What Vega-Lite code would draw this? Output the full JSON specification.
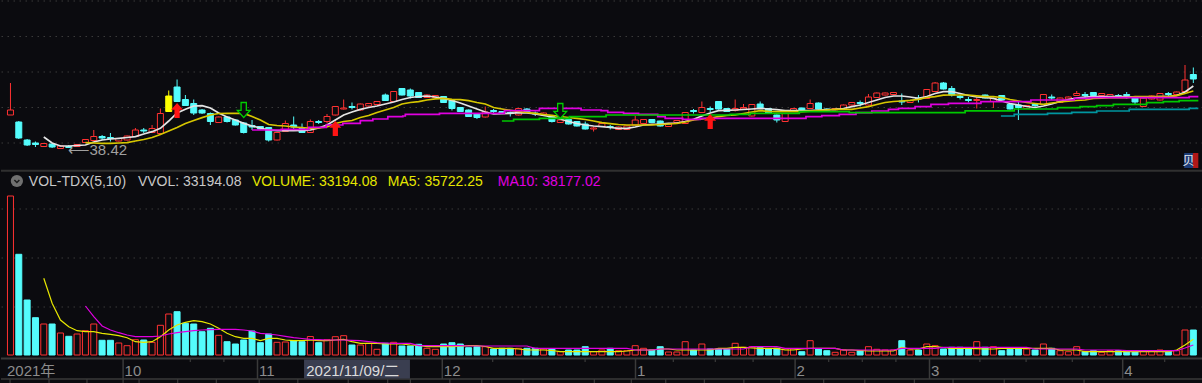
{
"$schema": "https://vega.github.io/schema/vega-lite/v6.json",
"background": "#0b0b0f",
"padding": 0,
"spacing": 0,
"config": {"view": {"stroke": null}, "font": "Liberation Sans, 'Noto Sans CJK SC', sans-serif", "concat": {"spacing": 0}},
"datasets": {
"k": [
{"i":0,"o":42.5,"h":46.34,"l":42.5,"c":43.1,"d":"u","v":286200},
{"i":1,"o":41.66,"h":41.78,"l":39.62,"c":39.74,"d":"d","v":181260},
{"i":2,"o":39.5,"h":39.62,"l":38.78,"c":38.9,"d":"d","v":99000},
{"i":3,"o":39.14,"h":39.32,"l":38.66,"c":38.96,"d":"d","v":67140},
{"i":4,"o":38.72,"h":39.14,"l":38.66,"c":39.08,"d":"u","v":55800,"m5":39.86,"vm5":138060},
{"i":5,"o":39.02,"h":39.08,"l":38.54,"c":38.66,"d":"d","v":55800,"m5":39.14,"vm5":93060},
{"i":6,"o":38.48,"h":38.84,"l":38.42,"c":38.78,"d":"u","v":39600,"m5":38.78,"vm5":63000},
{"i":7,"o":38.72,"h":38.9,"l":38.54,"c":38.6,"d":"d","v":33660,"m5":38.78,"vm5":50940},
{"i":8,"o":38.72,"h":39.02,"l":38.66,"c":38.96,"d":"u","v":37800,"m5":38.84,"vm5":43740},
{"i":9,"o":39.2,"h":39.62,"l":39.14,"c":39.56,"d":"u","v":43740,"m5":38.9,"m10":39.18,"vm5":41940,"vm10":88200},
{"i":10,"o":39.44,"h":40.7,"l":39.38,"c":39.92,"d":"u","v":55800,"m5":39.26,"m10":39.14,"vm5":41940,"vm10":68940},
{"i":11,"o":39.92,"h":40.1,"l":39.5,"c":39.74,"d":"d","v":26460,"m5":39.5,"m10":39.1,"vm5":39060,"vm10":52200},
{"i":12,"o":39.8,"h":40.34,"l":39.32,"c":39.68,"d":"d","v":26460,"m5":39.62,"m10":39.1,"vm5":37260,"vm10":45000},
{"i":13,"o":39.38,"h":39.74,"l":39.32,"c":39.68,"d":"u","v":21600,"m5":39.7,"m10":39.14,"vm5":34740,"vm10":40140},
{"i":14,"o":39.5,"h":40.04,"l":39.44,"c":39.98,"d":"u","v":16740,"m5":39.8,"m10":39.18,"vm5":31140,"vm10":36000},
{"i":15,"o":39.92,"h":40.94,"l":39.86,"c":40.7,"d":"u","v":27540,"m5":39.9,"m10":39.38,"vm5":23940,"vm10":32940},
{"i":16,"o":40.7,"h":40.94,"l":40.34,"c":40.58,"d":"d","v":27000,"m5":40.22,"m10":39.56,"vm5":22860,"vm10":32940},
{"i":17,"o":40.4,"h":41.3,"l":40.34,"c":40.88,"d":"u","v":22860,"m5":40.5,"m10":39.8,"vm5":23940,"vm10":32940},
{"i":18,"o":40.28,"h":43.28,"l":40.22,"c":42.68,"d":"u","v":53460,"m5":40.9,"m10":40.16,"vm5":32940,"vm10":34200},
{"i":19,"o":42.92,"h":45.44,"l":42.86,"c":44.78,"d":"y","v":73800,"m5":41.78,"m10":40.58,"vm5":45000,"vm10":37800},
{"i":20,"o":45.86,"h":46.76,"l":44.06,"c":44.12,"d":"d","v":77940,"m5":42.74,"m10":41.0,"vm5":54000,"vm10":40140},
{"i":21,"o":44.36,"h":44.9,"l":43.58,"c":43.64,"d":"d","v":57060,"m5":43.18,"m10":41.48,"vm5":58860,"vm10":41940},
{"i":22,"o":43.88,"h":44.36,"l":42.5,"c":42.74,"d":"d","v":55800,"m5":43.58,"m10":41.84,"vm5":61740,"vm10":43740},
{"i":23,"o":43.1,"h":43.22,"l":42.62,"c":42.74,"d":"d","v":41940,"m5":43.62,"m10":42.18,"vm5":59940,"vm10":45000},
{"i":24,"o":42.68,"h":42.8,"l":41.3,"c":41.72,"d":"d","v":48060,"m5":43.34,"m10":42.5,"vm5":55800,"vm10":45540},
{"i":25,"o":41.6,"h":42.32,"l":41.54,"c":42.26,"d":"u","v":35460,"m5":42.74,"m10":42.68,"vm5":48060,"vm10":46260},
{"i":26,"o":42.26,"h":42.38,"l":41.6,"c":41.72,"d":"d","v":23940,"m5":42.26,"m10":42.7,"vm5":39060,"vm10":46260},
{"i":27,"o":41.9,"h":41.96,"l":41.24,"c":41.3,"d":"d","v":19800,"m5":41.9,"m10":42.7,"vm5":32940,"vm10":46260},
{"i":28,"o":41.54,"h":41.66,"l":40.28,"c":40.4,"d":"d","v":27000,"m5":41.5,"m10":42.7,"vm5":30060,"vm10":45000},
{"i":29,"o":41.24,"h":41.9,"l":40.7,"c":41.06,"d":"d","v":43200,"m5":41.18,"m10":42.32,"vm5":30060,"vm10":43200},
{"i":30,"o":41.12,"h":41.18,"l":40.76,"c":40.82,"d":"d","v":22140,"m5":40.94,"m10":41.9,"vm5":25740,"vm10":39060},
{"i":31,"o":41.0,"h":41.06,"l":39.32,"c":39.5,"d":"d","v":37800,"m5":40.7,"m10":41.36,"vm5":30060,"vm10":37800},
{"i":32,"o":39.5,"h":40.46,"l":39.44,"c":40.4,"d":"u","v":22860,"m5":40.62,"m10":41.24,"vm5":30060,"vm10":36000},
{"i":33,"o":40.52,"h":41.84,"l":40.46,"c":41.48,"d":"u","v":23400,"m5":40.62,"m10":41.18,"vm5":27000,"vm10":33660},
{"i":34,"o":41.3,"h":42.32,"l":40.76,"c":41.06,"d":"d","v":25200,"m5":40.62,"m10":41.06,"vm5":25740,"vm10":31140},
{"i":35,"o":40.88,"h":41.48,"l":40.34,"c":40.4,"d":"d","v":23940,"m5":40.64,"m10":41.0,"vm5":25740,"vm10":29700},
{"i":36,"o":40.4,"h":41.96,"l":40.34,"c":41.72,"d":"u","v":33194.08,"m5":40.7,"m10":40.9,"vm5":27000,"vm10":28260},
{"i":37,"o":41.72,"h":41.9,"l":41.42,"c":41.6,"d":"d","v":22140,"m5":40.94,"m10":40.94,"vm5":25740,"vm10":27540},
{"i":38,"o":41.72,"h":42.62,"l":41.48,"c":42.32,"d":"u","v":27540,"m5":41.3,"m10":41.06,"vm5":25740,"vm10":27000},
{"i":39,"o":42.5,"h":43.58,"l":42.44,"c":43.52,"d":"u","v":32940,"m5":41.9,"m10":41.48,"vm5":27000,"vm10":27000},
{"i":40,"o":43.22,"h":44.36,"l":43.16,"c":43.34,"d":"u","v":34740,"m5":42.5,"m10":41.72,"vm5":28260,"vm10":27000},
{"i":41,"o":43.52,"h":44.0,"l":43.16,"c":43.4,"d":"d","v":18000,"m5":42.86,"m10":41.84,"vm5":23940,"vm10":26460},
{"i":42,"o":43.1,"h":43.88,"l":43.04,"c":43.82,"d":"u","v":18000,"m5":43.18,"m10":42.2,"vm5":21060,"vm10":25740},
{"i":43,"o":43.58,"h":43.94,"l":43.52,"c":43.88,"d":"u","v":21060,"m5":43.4,"m10":42.44,"vm5":21060,"vm10":23940},
{"i":44,"o":43.76,"h":44.18,"l":43.7,"c":44.12,"d":"u","v":10260,"m5":43.58,"m10":42.8,"vm5":21060,"vm10":22140},
{"i":45,"o":44.9,"h":45.08,"l":44.18,"c":44.24,"d":"d","v":21060,"m5":43.82,"m10":43.1,"vm5":19800,"vm10":21600},
{"i":46,"o":44.12,"h":45.38,"l":44.06,"c":45.32,"d":"u","v":22860,"m5":44.06,"m10":43.4,"vm5":19800,"vm10":21060},
{"i":47,"o":45.68,"h":45.74,"l":44.84,"c":44.9,"d":"d","v":16200,"m5":44.36,"m10":43.82,"vm5":19800,"vm10":21060},
{"i":48,"o":45.5,"h":45.68,"l":44.48,"c":44.78,"d":"d","v":16200,"m5":44.6,"m10":44.0,"vm5":18000,"vm10":21060},
{"i":49,"o":45.2,"h":45.26,"l":44.54,"c":44.6,"d":"d","v":19260,"m5":44.72,"m10":44.1,"vm5":17100,"vm10":16740},
{"i":50,"o":44.6,"h":44.96,"l":44.54,"c":44.9,"d":"u","v":12060,"m5":44.78,"m10":44.3,"vm5":14940,"vm10":16740},
{"i":51,"o":44.6,"h":44.9,"l":44.54,"c":44.84,"d":"u","v":10260,"m5":44.66,"m10":44.44,"vm5":14940,"vm10":16740},
{"i":52,"o":44.72,"h":44.78,"l":43.94,"c":44.0,"d":"d","v":19800,"m5":44.5,"m10":44.5,"vm5":14940,"vm10":16740},
{"i":53,"o":44.24,"h":44.36,"l":43.04,"c":43.28,"d":"d","v":22140,"m5":44.24,"m10":44.38,"vm5":14940,"vm10":16740},
{"i":54,"o":43.4,"h":43.46,"l":42.86,"c":42.92,"d":"d","v":19800,"m5":43.94,"m10":44.34,"vm5":15840,"vm10":16740},
{"i":55,"o":43.1,"h":43.16,"l":42.26,"c":42.32,"d":"d","v":13140,"m5":43.58,"m10":44.22,"vm5":16740,"vm10":16200},
{"i":56,"o":42.62,"h":42.68,"l":42.02,"c":42.2,"d":"d","v":14940,"m5":43.22,"m10":44.0,"vm5":16740,"vm10":16200},
{"i":57,"o":42.26,"h":43.52,"l":42.2,"c":42.86,"d":"u","v":14940,"m5":42.86,"m10":43.82,"vm5":15300,"vm10":16200},
{"i":58,"o":43.04,"h":43.22,"l":42.74,"c":42.92,"d":"d","v":10800,"m5":42.62,"m10":43.4,"vm5":12060,"vm10":16200},
{"i":59,"o":42.92,"h":42.98,"l":42.68,"c":42.74,"d":"d","v":12060,"m5":42.66,"m10":43.22,"vm5":12060,"vm10":16200},
{"i":60,"o":42.8,"h":42.92,"l":42.32,"c":42.68,"d":"d","v":12060,"m5":42.7,"m10":43.06,"vm5":12060,"vm10":16200},
{"i":61,"o":42.5,"h":43.34,"l":42.44,"c":43.28,"d":"u","v":12060,"m5":42.78,"m10":42.92,"vm5":10800,"vm10":16200},
{"i":62,"o":43.22,"h":43.34,"l":42.74,"c":42.8,"d":"d","v":12060,"m5":42.76,"m10":42.8,"vm5":9000,"vm10":16200},
{"i":63,"o":42.74,"h":42.92,"l":42.38,"c":42.62,"d":"d","v":12060,"m5":42.62,"m10":42.7,"vm5":9000,"vm10":12060},
{"i":64,"o":42.5,"h":42.8,"l":42.44,"c":42.74,"d":"u","v":10800,"m5":42.44,"m10":42.56,"vm5":9000,"vm10":12060},
{"i":65,"o":42.32,"h":42.38,"l":41.6,"c":41.72,"d":"d","v":10800,"m5":42.26,"m10":42.46,"vm5":8100,"vm10":12060},
{"i":66,"o":41.6,"h":41.96,"l":41.54,"c":41.9,"d":"u","v":5940,"m5":42.02,"m10":42.32,"vm5":5940,"vm10":12060},
{"i":67,"o":41.96,"h":42.02,"l":41.36,"c":41.42,"d":"d","v":9000,"m5":41.72,"m10":42.2,"vm5":5940,"vm10":12060},
{"i":68,"o":41.72,"h":41.78,"l":41.12,"c":41.18,"d":"d","v":9000,"m5":41.48,"m10":42.1,"vm5":5940,"vm10":12060},
{"i":69,"o":41.42,"h":41.72,"l":40.76,"c":40.82,"d":"d","v":14940,"m5":41.3,"m10":41.96,"vm5":5940,"vm10":12060},
{"i":70,"o":40.82,"h":41.12,"l":40.52,"c":40.94,"d":"u","v":5940,"m5":41.18,"m10":41.78,"vm5":5940,"vm10":12060},
{"i":71,"o":41.12,"h":41.54,"l":41.06,"c":41.48,"d":"u","v":9000,"m5":41.1,"m10":41.58,"vm5":5940,"vm10":12060},
{"i":72,"o":41.12,"h":41.3,"l":40.76,"c":41.0,"d":"d","v":12060,"m5":41.0,"m10":41.46,"vm5":5940,"vm10":12060},
{"i":73,"o":40.76,"h":41.12,"l":40.7,"c":41.06,"d":"u","v":7740,"m5":40.9,"m10":41.36,"vm5":5940,"vm10":12060},
{"i":74,"o":40.76,"h":41.24,"l":40.7,"c":41.18,"d":"u","v":7740,"m5":40.9,"m10":41.3,"vm5":7200,"vm10":12060},
{"i":75,"o":41.3,"h":42.38,"l":41.24,"c":41.9,"d":"u","v":16740,"m5":41.06,"m10":41.3,"vm5":9000,"vm10":9000},
{"i":76,"o":41.48,"h":42.02,"l":41.42,"c":41.96,"d":"u","v":12060,"m5":41.3,"m10":41.3,"vm5":9000,"vm10":9000},
{"i":77,"o":41.96,"h":42.02,"l":41.54,"c":41.6,"d":"d","v":9000,"m5":41.38,"m10":41.3,"vm5":9000,"vm10":9000},
{"i":78,"o":41.78,"h":41.84,"l":41.12,"c":41.18,"d":"d","v":14940,"m5":41.42,"m10":41.36,"vm5":10800,"vm10":10800},
{"i":79,"o":41.12,"h":41.48,"l":41.06,"c":41.42,"d":"u","v":5400,"m5":41.5,"m10":41.42,"vm5":10800,"vm10":10800},
{"i":80,"o":41.6,"h":41.9,"l":41.54,"c":41.84,"d":"u","v":5400,"m5":41.54,"m10":41.48,"vm5":9000,"vm10":10800},
{"i":81,"o":41.48,"h":42.86,"l":41.42,"c":42.8,"d":"u","v":23940,"m5":41.72,"m10":41.66,"vm5":9000,"vm10":10800},
{"i":82,"o":43.04,"h":43.22,"l":42.68,"c":42.92,"d":"d","v":9000,"m5":41.98,"m10":41.9,"vm5":9000,"vm10":10800},
{"i":83,"o":42.8,"h":44.12,"l":42.74,"c":43.4,"d":"u","v":19800,"m5":42.38,"m10":42.02,"vm5":9000,"vm10":10800},
{"i":84,"o":43.28,"h":43.52,"l":42.86,"c":43.16,"d":"d","v":10800,"m5":42.74,"m10":42.14,"vm5":9000,"vm10":10800},
{"i":85,"o":44.12,"h":44.18,"l":43.16,"c":43.22,"d":"d","v":10800,"m5":43.02,"m10":42.3,"vm5":12060,"vm10":10800},
{"i":86,"o":43.28,"h":43.34,"l":42.86,"c":42.92,"d":"d","v":10800,"m5":43.06,"m10":42.44,"vm5":12060,"vm10":10800},
{"i":87,"o":43.04,"h":44.36,"l":42.92,"c":43.28,"d":"u","v":21060,"m5":43.1,"m10":42.52,"vm5":13860,"vm10":10800},
{"i":88,"o":43.22,"h":43.82,"l":43.1,"c":43.4,"d":"u","v":13860,"m5":43.16,"m10":42.68,"vm5":13860,"vm10":10800},
{"i":89,"o":42.38,"h":43.82,"l":42.32,"c":43.76,"d":"u","v":14940,"m5":43.22,"m10":42.86,"vm5":12960,"vm10":14940},
{"i":90,"o":43.82,"h":44.12,"l":43.22,"c":43.28,"d":"d","v":13140,"m5":43.3,"m10":43.02,"vm5":12060,"vm10":14940},
{"i":91,"o":43.28,"h":43.34,"l":42.68,"c":42.74,"d":"d","v":10800,"m5":43.22,"m10":42.94,"vm5":12060,"vm10":14940},
{"i":92,"o":42.5,"h":42.56,"l":41.6,"c":41.9,"d":"d","v":12060,"m5":43.14,"m10":42.9,"vm5":12060,"vm10":14940},
{"i":93,"o":41.72,"h":42.74,"l":41.66,"c":42.68,"d":"u","v":10800,"m5":43.02,"m10":42.9,"vm5":9000,"vm10":12060},
{"i":94,"o":42.92,"h":43.34,"l":42.86,"c":43.28,"d":"u","v":10800,"m5":43.02,"m10":42.9,"vm5":9000,"vm10":12060},
{"i":95,"o":43.34,"h":43.4,"l":42.98,"c":43.04,"d":"d","v":5940,"m5":43.02,"m10":42.9,"vm5":10800,"vm10":12060},
{"i":96,"o":43.28,"h":44.36,"l":43.22,"c":43.88,"d":"u","v":25740,"m5":43.04,"m10":42.96,"vm5":12060,"vm10":12060},
{"i":97,"o":43.94,"h":44.0,"l":43.16,"c":43.22,"d":"d","v":10800,"m5":43.1,"m10":43.02,"vm5":12060,"vm10":12060},
{"i":98,"o":43.22,"h":43.28,"l":43.04,"c":43.1,"d":"d","v":7740,"m5":43.14,"m10":43.1,"vm5":12060,"vm10":12060},
{"i":99,"o":43.1,"h":43.34,"l":43.04,"c":43.28,"d":"u","v":4860,"m5":43.18,"m10":43.18,"vm5":12060,"vm10":12060},
{"i":100,"o":43.16,"h":43.76,"l":43.1,"c":43.7,"d":"u","v":9000,"m5":43.28,"m10":43.18,"vm5":9000,"vm10":9000},
{"i":101,"o":43.7,"h":44.06,"l":43.64,"c":44.0,"d":"u","v":4860,"m5":43.5,"m10":43.18,"vm5":9000,"vm10":9000},
{"i":102,"o":44.0,"h":44.24,"l":43.52,"c":43.88,"d":"d","v":7740,"m5":43.7,"m10":43.34,"vm5":8100,"vm10":9000},
{"i":103,"o":43.7,"h":45.02,"l":43.64,"c":44.66,"d":"u","v":14940,"m5":44.0,"m10":43.5,"vm5":7200,"vm10":9000},
{"i":104,"o":44.6,"h":45.2,"l":44.54,"c":45.14,"d":"u","v":10260,"m5":44.3,"m10":43.76,"vm5":7200,"vm10":9000},
{"i":105,"o":44.9,"h":45.2,"l":44.84,"c":45.14,"d":"u","v":9000,"m5":44.6,"m10":44.0,"vm5":7200,"vm10":9000},
{"i":106,"o":44.96,"h":45.26,"l":44.9,"c":45.2,"d":"u","v":9000,"m5":44.78,"m10":44.12,"vm5":7200,"vm10":9000},
{"i":107,"o":44.18,"h":45.08,"l":43.7,"c":44.06,"d":"d","v":25740,"m5":44.78,"m10":44.18,"vm5":13860,"vm10":12060},
{"i":108,"o":44.0,"h":44.3,"l":43.94,"c":44.24,"d":"u","v":9000,"m5":44.66,"m10":44.26,"vm5":10800,"vm10":12060},
{"i":109,"o":44.54,"h":44.9,"l":44.0,"c":44.42,"d":"d","v":9000,"m5":44.5,"m10":44.38,"vm5":10800,"vm10":12060},
{"i":110,"o":44.48,"h":45.62,"l":44.42,"c":45.56,"d":"u","v":19800,"m5":44.72,"m10":44.6,"vm5":14940,"vm10":12060},
{"i":111,"o":45.32,"h":46.46,"l":45.26,"c":46.34,"d":"u","v":16740,"m5":45.08,"m10":44.7,"vm5":14940,"vm10":12060},
{"i":112,"o":46.34,"h":46.46,"l":45.56,"c":45.62,"d":"d","v":10800,"m5":45.3,"m10":44.88,"vm5":13500,"vm10":13860},
{"i":113,"o":45.68,"h":45.98,"l":44.72,"c":44.9,"d":"d","v":13860,"m5":45.3,"m10":44.9,"vm5":12060,"vm10":13860},
{"i":114,"o":44.72,"h":44.9,"l":44.36,"c":44.6,"d":"d","v":13860,"m5":45.08,"m10":44.9,"vm5":12060,"vm10":13860},
{"i":115,"o":44.36,"h":44.66,"l":44.0,"c":44.24,"d":"d","v":12060,"m5":44.84,"m10":44.9,"vm5":12060,"vm10":13860},
{"i":116,"o":44.24,"h":44.6,"l":43.28,"c":44.36,"d":"u","v":23940,"m5":44.66,"m10":44.8,"vm5":11460,"vm10":13860},
{"i":117,"o":44.9,"h":44.96,"l":44.48,"c":44.54,"d":"d","v":13860,"m5":44.62,"m10":44.7,"vm5":10800,"vm10":13860},
{"i":118,"o":44.12,"h":44.6,"l":43.34,"c":44.48,"d":"u","v":14940,"m5":44.5,"m10":44.7,"vm5":10800,"vm10":13860},
{"i":119,"o":44.84,"h":44.9,"l":44.24,"c":44.3,"d":"d","v":7740,"m5":44.18,"m10":44.6,"vm5":12060,"vm10":13860},
{"i":120,"o":43.76,"h":43.82,"l":43.16,"c":43.22,"d":"d","v":10260,"m5":43.88,"m10":44.36,"vm5":12060,"vm10":13860},
{"i":121,"o":43.7,"h":44.12,"l":41.9,"c":43.4,"d":"d","v":10800,"m5":43.7,"m10":44.18,"vm5":12060,"vm10":13860},
{"i":122,"o":43.28,"h":43.7,"l":43.22,"c":43.64,"d":"u","v":10800,"m5":43.52,"m10":44.0,"vm5":12060,"vm10":13860},
{"i":123,"o":43.76,"h":43.94,"l":43.4,"c":43.64,"d":"d","v":9000,"m5":43.4,"m10":43.88,"vm5":12060,"vm10":10800},
{"i":124,"o":43.76,"h":45.02,"l":43.7,"c":44.96,"d":"u","v":19800,"m5":43.58,"m10":43.78,"vm5":12060,"vm10":10800},
{"i":125,"o":44.66,"h":44.96,"l":44.3,"c":44.54,"d":"d","v":12060,"m5":43.82,"m10":43.94,"vm5":12060,"vm10":10800},
{"i":126,"o":44.0,"h":44.6,"l":43.94,"c":44.54,"d":"u","v":7740,"m5":44.12,"m10":44.06,"vm5":9000,"vm10":10800},
{"i":127,"o":44.42,"h":44.72,"l":44.36,"c":44.66,"d":"u","v":5940,"m5":44.36,"m10":44.16,"vm5":9000,"vm10":10800},
{"i":128,"o":44.84,"h":45.38,"l":44.78,"c":45.08,"d":"u","v":14940,"m5":44.54,"m10":44.24,"vm5":9000,"vm10":10800},
{"i":129,"o":44.96,"h":45.26,"l":44.54,"c":44.84,"d":"d","v":5940,"m5":44.66,"m10":44.3,"vm5":5940,"vm10":9000},
{"i":130,"o":45.2,"h":45.26,"l":44.78,"c":44.84,"d":"d","v":7740,"m5":44.72,"m10":44.48,"vm5":5940,"vm10":9000},
{"i":131,"o":44.84,"h":45.14,"l":44.78,"c":45.08,"d":"u","v":4860,"m5":44.72,"m10":44.52,"vm5":5940,"vm10":9000},
{"i":132,"o":44.72,"h":45.02,"l":44.66,"c":44.96,"d":"u","v":7740,"m5":44.7,"m10":44.58,"vm5":5940,"vm10":9000},
{"i":133,"o":44.84,"h":45.02,"l":44.54,"c":44.72,"d":"d","v":7740,"m5":44.7,"m10":44.58,"vm5":5940,"vm10":9000},
{"i":134,"o":44.96,"h":45.26,"l":44.48,"c":44.84,"d":"d","v":7740,"m5":44.7,"m10":44.58,"vm5":5940,"vm10":7740},
{"i":135,"o":44.54,"h":44.6,"l":43.76,"c":44.06,"d":"d","v":7740,"m5":44.66,"m10":44.7,"vm5":5940,"vm10":7740},
{"i":136,"o":43.52,"h":44.6,"l":43.46,"c":44.54,"d":"u","v":7740,"m5":44.6,"m10":44.7,"vm5":5940,"vm10":7740},
{"i":137,"o":44.42,"h":44.84,"l":44.36,"c":44.78,"d":"u","v":7740,"m5":44.66,"m10":44.7,"vm5":5940,"vm10":7740},
{"i":138,"o":44.3,"h":45.14,"l":44.24,"c":45.08,"d":"u","v":9000,"m5":44.7,"m10":44.7,"vm5":5940,"vm10":7740},
{"i":139,"o":45.08,"h":45.26,"l":44.78,"c":44.96,"d":"d","v":7740,"m5":44.72,"m10":44.72,"vm5":5940,"vm10":7740},
{"i":140,"o":44.96,"h":45.32,"l":44.9,"c":45.26,"d":"u","v":7740,"m5":44.84,"m10":44.82,"vm5":9000,"vm10":7740},
{"i":141,"o":45.32,"h":48.5,"l":45.26,"c":46.7,"d":"u","v":45000,"m5":45.26,"m10":45.08,"vm5":18000,"vm10":12600},
{"i":142,"o":47.36,"h":48.2,"l":46.34,"c":46.82,"d":"d","v":45000,"m5":45.98,"m10":45.38,"vm5":28260,"vm10":18000}
],
"ma": [
{"s":"m20","i":29.0,"p":40.7},{"s":"m20","i":32.5,"p":40.78},{"s":"m20","i":35.8,"p":41.02},{"s":"m20","i":37.9,"p":41.3},{"s":"m20","i":39.9,"p":41.5},{"s":"m20","i":42.0,"p":41.82},{"s":"m20","i":43.5,"p":42.02},{"s":"m20","i":45.3,"p":42.3},{"s":"m20","i":47.1,"p":42.38},{"s":"m20","i":47.4,"p":42.58},{"s":"m20","i":51.5,"p":42.7},{"s":"m20","i":59.3,"p":43.02},{"s":"m20","i":63.5,"p":43.3},{"s":"m20","i":68.5,"p":43.1},{"s":"m20","i":70.9,"p":43.02},{"s":"m20","i":71.7,"p":42.82},{"s":"m20","i":73.6,"p":42.7},{"s":"m20","i":75.4,"p":42.58},{"s":"m20","i":77.7,"p":42.3},{"s":"m20","i":78.6,"p":42.1},{"s":"m20","i":80.7,"p":41.98},{"s":"m20","i":82.8,"p":42.1},{"s":"m20","i":95.5,"p":42.3},{"s":"m20","i":97.4,"p":42.42},{"s":"m20","i":99.5,"p":42.58},{"s":"m20","i":101.5,"p":42.78},{"s":"m20","i":103.4,"p":42.98},{"s":"m20","i":105.4,"p":43.18},{"s":"m20","i":106.6,"p":43.3},{"s":"m20","i":108.6,"p":43.5},{"s":"m20","i":110.5,"p":43.78},{"s":"m20","i":112.6,"p":43.9},{"s":"m20","i":116.5,"p":44.1},{"s":"m20","i":122.5,"p":44.3},{"s":"m20","i":127.7,"p":44.5},{"s":"m20","i":129.6,"p":44.58},{"s":"m20","i":141.5,"p":44.7},{"s":"m20","i":142.6,"p":44.7},
{"s":"m30","i":59.0,"p":41.78},{"s":"m30","i":60.4,"p":41.98},{"s":"m30","i":63.5,"p":42.1},{"s":"m30","i":67.1,"p":42.3},{"s":"m30","i":71.5,"p":42.5},{"s":"m30","i":86.4,"p":42.58},{"s":"m30","i":88.8,"p":42.7},{"s":"m30","i":94.7,"p":42.9},{"s":"m30","i":100.7,"p":42.78},{"s":"m30","i":114.6,"p":43.0},{"s":"m30","i":120.5,"p":43.22},{"s":"m30","i":125.7,"p":43.38},{"s":"m30","i":128.4,"p":43.5},{"s":"m30","i":130.4,"p":43.62},{"s":"m30","i":132.4,"p":43.78},{"s":"m30","i":136.4,"p":43.98},{"s":"m30","i":138.4,"p":44.1},{"s":"m30","i":140.3,"p":44.22},{"s":"m30","i":142.6,"p":44.22},
{"s":"m60","i":118.9,"p":42.38},{"s":"m60","i":120.5,"p":42.58},{"s":"m60","i":124.5,"p":42.7},{"s":"m60","i":127.4,"p":42.82},{"s":"m60","i":130.4,"p":42.98},{"s":"m60","i":134.3,"p":43.18},{"s":"m60","i":141.5,"p":43.3},{"s":"m60","i":142.6,"p":43.3}
]
},
"vconcat": [
{
"width": 1202, "height": 172,
"resolve": {"scale": {"color": "independent", "stroke": "independent", "fill": "independent"}},
"layer": [
{"data": {"values": [{"g":56.18},{"g":51.92},{"g":47.66},{"g":43.4},{"g":39.14}]},
 "mark": {"type": "rule", "stroke": "#3a3a3a", "strokeDash": [1.5, 4.5], "strokeWidth": 1},
 "encoding": {"y": {"field": "g", "type": "quantitative", "scale": {"domain": [35.66, 56.3], "nice": false, "zero": false}, "axis": null}}},
{"data": {"values": [{"g":35.8}]},
 "mark": {"type": "rule", "stroke": "#303030", "strokeWidth": 2},
 "encoding": {"y": {"field": "g", "type": "quantitative", "scale": {"domain": [35.66, 56.3], "nice": false, "zero": false}, "axis": null}}},
{"data": {"name": "k"},
 "mark": {"type": "rule", "strokeWidth": 1},
 "encoding": {
  "x": {"field": "i", "type": "quantitative", "scale": {"domain": [-0.536, 142.56], "nice": false, "zero": false}, "axis": null},
  "y": {"field": "l", "type": "quantitative", "scale": {"domain": [35.66, 56.3], "nice": false, "zero": false}, "axis": null},
  "y2": {"field": "h"},
  "color": {"field": "d", "type": "nominal", "scale": {"domain": ["u","d","y"], "range": ["#ff3232","#54fcfc","#ffff00"]}, "legend": null}}},
{"data": {"name": "k"},
 "mark": {"type": "bar", "size": 6, "strokeWidth": 1},
 "encoding": {
  "x": {"field": "i", "type": "quantitative", "scale": {"domain": [-0.536, 142.56], "nice": false, "zero": false}, "axis": null},
  "y": {"field": "o", "type": "quantitative", "scale": {"domain": [35.66, 56.3], "nice": false, "zero": false}, "axis": null},
  "y2": {"field": "c"},
  "fill": {"field": "d", "type": "nominal", "scale": {"domain": ["u","d","y"], "range": ["#0b0b0f","#54fcfc","#ffff00"]}, "legend": null},
  "stroke": {"field": "d", "type": "nominal", "scale": {"domain": ["u","d","y"], "range": ["#ff3232","#54fcfc","#ffff00"]}, "legend": null}}},
{"data": {"name": "k"},
 "mark": {"type": "line", "stroke": "#e4e4e4", "strokeWidth": 1.7},
 "encoding": {
  "x": {"field": "i", "type": "quantitative", "scale": {"domain": [-0.536, 142.56], "nice": false, "zero": false}, "axis": null},
  "y": {"field": "m5", "type": "quantitative", "scale": {"domain": [35.66, 56.3], "nice": false, "zero": false}, "axis": null}}},
{"data": {"name": "k"},
 "mark": {"type": "line", "stroke": "#d6c600", "strokeWidth": 1.7},
 "encoding": {
  "x": {"field": "i", "type": "quantitative", "scale": {"domain": [-0.536, 142.56], "nice": false, "zero": false}, "axis": null},
  "y": {"field": "m10", "type": "quantitative", "scale": {"domain": [35.66, 56.3], "nice": false, "zero": false}, "axis": null}}},
{"data": {"name": "ma"},
 "mark": {"type": "line", "interpolate": "step-after", "strokeWidth": 1.7},
 "encoding": {
  "x": {"field": "i", "type": "quantitative", "scale": {"domain": [-0.536, 142.56], "nice": false, "zero": false}, "axis": null},
  "y": {"field": "p", "type": "quantitative", "scale": {"domain": [35.66, 56.3], "nice": false, "zero": false}, "axis": null},
  "color": {"field": "s", "type": "nominal", "scale": {"domain": ["m20","m30","m60"], "range": ["#e000e0","#00c800","#0096a0"]}, "legend": null}}},
{"data": {"values": [{"i":20,"p":43.04},{"i":39,"p":40.88},{"i":84,"p":41.72}]},
 "mark": {"type": "point", "filled": true, "fill": "#ff1414", "stroke": null, "opacity": 1, "size": 225, "shape": "M0,-1L0.8,-0.1L0.35,-0.1L0.35,1L-0.35,1L-0.35,-0.1L-0.8,-0.1Z"},
 "encoding": {
  "x": {"field": "i", "type": "quantitative", "scale": {"domain": [-0.536, 142.56], "nice": false, "zero": false}, "axis": null},
  "y": {"field": "p", "type": "quantitative", "scale": {"domain": [35.66, 56.3], "nice": false, "zero": false}, "axis": null}}},
{"data": {"values": [{"i":28,"p":43.1},{"i":66,"p":42.98}]},
 "mark": {"type": "point", "filled": false, "fill": "#0b0b0f", "stroke": "#00d000", "strokeWidth": 1.3, "opacity": 1, "size": 225, "shape": "M-0.35,-1L0.35,-1L0.35,0.05L0.85,0.05L0,1L-0.85,0.05L-0.35,0.05Z"},
 "encoding": {
  "x": {"field": "i", "type": "quantitative", "scale": {"domain": [-0.536, 142.56], "nice": false, "zero": false}, "axis": null},
  "y": {"field": "p", "type": "quantitative", "scale": {"domain": [35.66, 56.3], "nice": false, "zero": false}, "axis": null}}},
{"data": {"values": [{"i":6.85,"p":38.3,"t":"⟵38.42"}]},
 "mark": {"type": "text", "align": "left", "baseline": "middle", "fontSize": 15, "fill": "#a0a0a0"},
 "encoding": {
  "x": {"field": "i", "type": "quantitative", "scale": {"domain": [-0.536, 142.56], "nice": false, "zero": false}, "axis": null},
  "y": {"field": "p", "type": "quantitative", "scale": {"domain": [35.66, 56.3], "nice": false, "zero": false}, "axis": null},
  "text": {"field": "t"}}},
{"data": {"values": [{}]},
 "mark": {"type": "rect", "fill": "#1c3d78"},
 "encoding": {
  "x": {"datum": 140.9, "type": "quantitative", "scale": {"domain": [-0.536, 142.56], "nice": false, "zero": false}, "axis": null},
  "x2": {"datum": 141.96},
  "y": {"datum": 37.94, "type": "quantitative", "scale": {"domain": [35.66, 56.3], "nice": false, "zero": false}, "axis": null},
  "y2": {"datum": 36.14}}},
{"data": {"values": [{}]},
 "mark": {"type": "rect", "fill": "#b01818"},
 "encoding": {
  "x": {"datum": 141.96, "type": "quantitative", "scale": {"domain": [-0.536, 142.56], "nice": false, "zero": false}, "axis": null},
  "x2": {"datum": 142.6},
  "y": {"datum": 37.94, "type": "quantitative", "scale": {"domain": [35.66, 56.3], "nice": false, "zero": false}, "axis": null},
  "y2": {"datum": 36.14}}},
{"data": {"values": [{}]},
 "mark": {"type": "text", "align": "center", "baseline": "middle", "fontSize": 12, "fill": "#e8e8e8", "text": "贝"},
 "encoding": {
  "x": {"datum": 141.43, "type": "quantitative", "scale": {"domain": [-0.536, 142.56], "nice": false, "zero": false}, "axis": null},
  "y": {"datum": 37.04, "type": "quantitative", "scale": {"domain": [35.66, 56.3], "nice": false, "zero": false}, "axis": null}}}
]
},
{
"width": 1202, "height": 183,
"resolve": {"scale": {"color": "independent", "stroke": "independent", "fill": "independent"}},
"layer": [
{"data": {"values": [{"g":262800},{"g":174600},{"g":86400}]},
 "mark": {"type": "rule", "stroke": "#3a3a3a", "strokeDash": [1.5, 4.5], "strokeWidth": 1},
 "encoding": {"y": {"field": "g", "type": "quantitative", "scale": {"domain": [0, 329400], "nice": false, "zero": false}, "axis": null}}},
{"data": {"name": "k"},
 "mark": {"type": "bar", "size": 6, "strokeWidth": 1},
 "encoding": {
  "x": {"field": "i", "type": "quantitative", "scale": {"domain": [-0.536, 142.56], "nice": false, "zero": false}, "axis": null},
  "y": {"field": "v", "type": "quantitative", "stack": null, "scale": {"domain": [0, 329400], "nice": false, "zero": false}, "axis": null},
  "fill": {"field": "d", "type": "nominal", "scale": {"domain": ["u","d","y"], "range": ["#0b0b0f","#54fcfc","#0b0b0f"]}, "legend": null},
  "stroke": {"field": "d", "type": "nominal", "scale": {"domain": ["u","d","y"], "range": ["#ff3232","#54fcfc","#ff3232"]}, "legend": null}}},
{"data": {"name": "k"},
 "mark": {"type": "line", "stroke": "#e8e800", "strokeWidth": 1.2},
 "encoding": {
  "x": {"field": "i", "type": "quantitative", "scale": {"domain": [-0.536, 142.56], "nice": false, "zero": false}, "axis": null},
  "y": {"field": "vm5", "type": "quantitative", "scale": {"domain": [0, 329400], "nice": false, "zero": false}, "axis": null}}},
{"data": {"name": "k"},
 "mark": {"type": "line", "stroke": "#e000e0", "strokeWidth": 1.2},
 "encoding": {
  "x": {"field": "i", "type": "quantitative", "scale": {"domain": [-0.536, 142.56], "nice": false, "zero": false}, "axis": null},
  "y": {"field": "vm10", "type": "quantitative", "scale": {"domain": [0, 329400], "nice": false, "zero": false}, "axis": null}}},
{"data": {"values": [{}]},
 "mark": {"type": "point", "shape": "circle", "filled": true, "fill": "#707070", "opacity": 1, "size": 150},
 "encoding": {
  "x": {"datum": 0.77, "type": "quantitative", "scale": {"domain": [-0.536, 142.56], "nice": false, "zero": false}, "axis": null},
  "y": {"datum": 313200, "type": "quantitative", "scale": {"domain": [0, 329400], "nice": false, "zero": false}, "axis": null}}},
{"data": {"values": [{}]},
 "mark": {"type": "point", "shape": "M-0.5,-0.2L0,0.3L0.5,-0.2", "filled": false, "stroke": "#1a1a1a", "strokeWidth": 1.5, "opacity": 1, "size": 100},
 "encoding": {
  "x": {"datum": 0.77, "type": "quantitative", "scale": {"domain": [-0.536, 142.56], "nice": false, "zero": false}, "axis": null},
  "y": {"datum": 313200, "type": "quantitative", "scale": {"domain": [0, 329400], "nice": false, "zero": false}, "axis": null}}},
{"data": {"values": [
  {"i":2.2,"t":"VOL-TDX(5,10)","k":"a"},
  {"i":15.3,"t":"VVOL: 33194.08","k":"a"},
  {"i":29.0,"t":"VOLUME: 33194.08","k":"b"},
  {"i":45.3,"t":"MA5: 35722.25","k":"b"},
  {"i":58.5,"t":"MA10: 38177.02","k":"c"}]},
 "mark": {"type": "text", "align": "left", "baseline": "middle", "fontSize": 14},
 "encoding": {
  "x": {"field": "i", "type": "quantitative", "scale": {"domain": [-0.536, 142.56], "nice": false, "zero": false}, "axis": null},
  "y": {"datum": 311400, "type": "quantitative", "scale": {"domain": [0, 329400], "nice": false, "zero": false}, "axis": null},
  "text": {"field": "t"},
  "color": {"field": "k", "type": "nominal", "scale": {"domain": ["a","b","c"], "range": ["#c8c8c8","#e6e600","#e000e0"]}, "legend": null}}}
]
},
{
"width": 1202, "height": 28,
"layer": [
{"data": {"values": [{}]},
 "mark": {"type": "rule", "stroke": "#3a3a3a", "strokeWidth": 2},
 "encoding": {"y": {"datum": 2.5, "type": "quantitative", "scale": {"domain": [28, 0], "nice": false, "zero": false}, "axis": null}}},
{"data": {"values": [{}]},
 "mark": {"type": "rule", "stroke": "#3a3a3a", "strokeWidth": 1.5},
 "encoding": {"y": {"datum": 23, "type": "quantitative", "scale": {"domain": [28, 0], "nice": false, "zero": false}, "axis": null}}},
{"data": {"values": [{"i":14},{"i":30},{"i":52},{"i":75},{"i":94},{"i":110},{"i":133}]},
 "mark": {"type": "rule", "stroke": "#3a3a3a", "strokeWidth": 1.5},
 "encoding": {
  "x": {"field": "i", "type": "quantitative", "scale": {"domain": [-0.536, 142.56], "nice": false, "zero": false}, "axis": null},
  "y": {"datum": 3, "type": "quantitative", "scale": {"domain": [28, 0], "nice": false, "zero": false}, "axis": null},
  "y2": {"datum": 23}}},
{"data": {"values": [{"i":22},{"i":26},{"i":58},{"i":69},{"i":79.5},{"i":84.5},{"i":89},{"i":98},{"i":102},{"i":106},{"i":116},{"i":121.5},{"i":127},{"i":138}]},
 "mark": {"type": "rule", "stroke": "#3a3a3a", "strokeWidth": 1.2},
 "encoding": {
  "x": {"field": "i", "type": "quantitative", "scale": {"domain": [-0.536, 142.56], "nice": false, "zero": false}, "axis": null},
  "y": {"datum": 3, "type": "quantitative", "scale": {"domain": [28, 0], "nice": false, "zero": false}, "axis": null},
  "y2": {"datum": 6}}},
{"data": {"values": [{"i":0.54},{"i":5.18},{"i":9.7},{"i":14},{"i":15.9},{"i":20.5},{"i":25.1},{"i":30.2},{"i":34.8},{"i":40.8},{"i":45.5},{"i":48.2},{"i":52.9},{"i":56.7},{"i":61.6},{"i":70.1},{"i":74.5},{"i":78.6},{"i":83.2},{"i":87.9},{"i":92.3},{"i":97.4},{"i":102.3},{"i":108.2},{"i":112.8},{"i":118.9},{"i":123.6},{"i":128.4}]},
 "mark": {"type": "rule", "stroke": "#3a3a3a", "strokeWidth": 1.2},
 "encoding": {
  "x": {"field": "i", "type": "quantitative", "scale": {"domain": [-0.536, 142.56], "nice": false, "zero": false}, "axis": null},
  "y": {"datum": 23, "type": "quantitative", "scale": {"domain": [28, 0], "nice": false, "zero": false}, "axis": null},
  "y2": {"datum": 28}}},
{"data": {"values": [{}]},
 "mark": {"type": "rect", "fill": "#3a3e50"},
 "encoding": {
  "x": {"datum": 35.54, "type": "quantitative", "scale": {"domain": [-0.536, 142.56], "nice": false, "zero": false}, "axis": null},
  "x2": {"datum": 48.15},
  "y": {"datum": 3.5, "type": "quantitative", "scale": {"domain": [28, 0], "nice": false, "zero": false}, "axis": null},
  "y2": {"datum": 22.5}}},
{"data": {"values": [{"i":0,"t":"2021年"},{"i":14,"t":"10"},{"i":30,"t":"11"},{"i":52,"t":"12"},{"i":75,"t":"1"},{"i":94,"t":"2"},{"i":110,"t":"3"},{"i":133,"t":"4"}]},
 "mark": {"type": "text", "align": "left", "baseline": "middle", "dx": 1.5, "fontSize": 15, "fill": "#8c8c8c"},
 "encoding": {
  "x": {"field": "i", "type": "quantitative", "scale": {"domain": [-0.536, 142.56], "nice": false, "zero": false}, "axis": null},
  "y": {"datum": 15, "type": "quantitative", "scale": {"domain": [28, 0], "nice": false, "zero": false}, "axis": null},
  "text": {"field": "t"}}},
{"data": {"values": [{}]},
 "mark": {"type": "text", "align": "left", "baseline": "middle", "fontSize": 15, "fill": "#dcdcdc", "text": "2021/11/09/二"},
 "encoding": {
  "x": {"datum": 35.8, "type": "quantitative", "scale": {"domain": [-0.536, 142.56], "nice": false, "zero": false}, "axis": null},
  "y": {"datum": 15, "type": "quantitative", "scale": {"domain": [28, 0], "nice": false, "zero": false}, "axis": null}}}
]
}
]
}
